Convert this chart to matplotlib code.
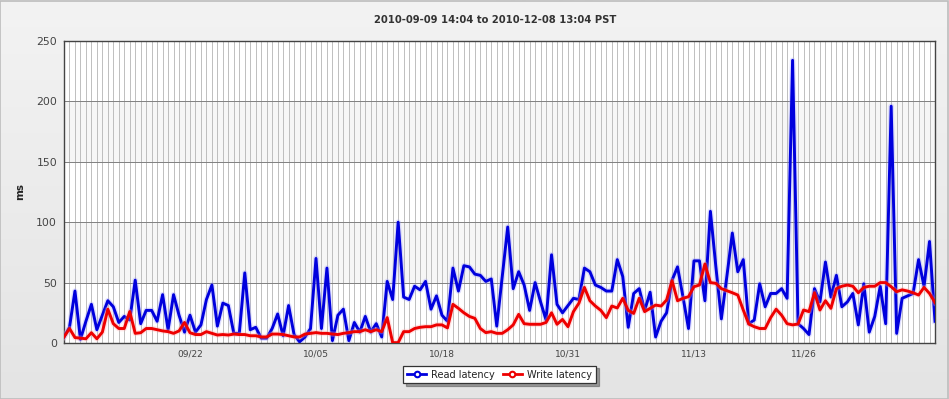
import matplotlib
matplotlib.use("Agg")
import matplotlib.pyplot as plt
import matplotlib.patheffects as pe
from matplotlib.lines import Line2D
from matplotlib.colors import LinearSegmentedColormap
import numpy as np

title = "2010-09-09 14:04 to 2010-12-08 13:04 PST"
y_label = "ms"
series_names = ["Read latency", "Write latency"]

read_latency = [
    5, 13, 43, 3, 18, 32, 11, 23, 35, 30, 17, 22, 19, 52, 16, 27, 27, 18, 40, 11,
    40, 23, 9, 23, 9, 15, 36, 48, 14, 33, 31, 8, 8, 58, 11, 13, 4, 4, 12, 24,
    6, 31, 7, 1, 5, 12, 70, 12, 62, 2, 23, 28, 2, 17, 9, 22, 9, 16, 5, 51,
    36, 100, 38, 36, 47, 44, 51, 28, 39, 23, 18, 62, 43, 64, 63, 57, 56, 51, 53, 14,
    55, 96, 45, 59, 48, 27, 50, 34, 19, 73, 32, 25, 31, 37, 36, 62, 59, 48, 46, 43,
    43, 69, 55, 13, 41, 45, 27, 42, 5, 18, 25, 52, 63, 38, 12, 68, 68, 35, 109, 63,
    20, 55, 91, 59, 69, 16, 19, 49, 30, 41, 41, 45, 37, 234, 16, 12, 7, 45, 34, 67,
    38, 56, 30, 34, 41, 15, 49, 9, 22, 47, 16, 196, 8, 37, 39, 41, 69, 47, 84, 18,
]

write_latency = [
    5, 12, 4.5, 4, 3.5, 8.5, 3.5, 9, 28, 16, 12, 12, 26, 8, 8.5, 12, 12, 11, 10, 9.4,
    8, 10, 17, 8.5, 7, 7, 9.4, 8, 6.6, 7, 6.6, 7.4, 7, 7, 6, 6, 5, 5, 7.4, 7.4,
    7, 6, 5, 5, 7.4, 8, 8.6, 8, 8, 7.4, 7, 8, 8.6, 9.4, 9.4, 11, 9.4, 11, 9.4, 21,
    0.3, 0.3, 9.4, 9.4, 12, 13, 13.5, 13.5, 15, 15, 12.5, 32, 28.7, 25, 22, 20.4, 12, 8.6, 9.4, 8,
    8, 11, 15, 23.7, 16, 15.5, 15.5, 15.5, 17, 25, 15.5, 19.5, 13.5, 26, 33, 46, 35, 30.6, 27, 21,
    30.6, 29, 37, 27, 24.5, 37, 26, 28.7, 31.4, 30.6, 35.6, 51.6, 35, 37, 38.3, 46.6, 48, 65.4, 50, 49.4,
    45, 43.3, 41.6, 39.7, 27.3, 15.7, 13.5, 12, 12, 21, 28, 23, 16, 15, 15.7, 27.3, 26, 41.6, 27.3, 35,
    28.7, 45, 47, 48, 47, 41.6, 46, 47, 47, 50, 50, 46.6, 42.5, 44, 43, 41.6, 39.7, 46, 41, 33.4,
]

tick_labels = ["09/22", "10/05", "10/18", "10/31", "11/13", "11/26"]
tick_index = [23, 46, 69, 92, 115, 135]
y_ticks = [0, 50, 100, 150, 200, 250]

plt.rcParams["font.family"] = ["DejaVu Sans"]

W, H = 949, 399
fig = plt.figure(figsize=(W / 100, H / 100), dpi=100)

# background gradient
bg = fig.add_axes([0, 0, 1, 1], zorder=-10)
grad = np.linspace(0, 1, 256).reshape(-1, 1)
cmap_bg = LinearSegmentedColormap.from_list("bg", ["#f3f3f3", "#e4e4e4"])
bg.imshow(grad, aspect="auto", cmap=cmap_bg, extent=[0, 1, 0, 1], origin="upper")
bg.set_xlim(0, 1)
bg.set_ylim(0, 1)
bg.axis("off")
bg.add_patch(plt.Rectangle((0.0005, 0.001), 0.998, 0.997, fill=False,
                           edgecolor="#bdbdbd", linewidth=1.2, transform=bg.transAxes))

left, right, top, bottom = 64, 935, 41, 343
ax = fig.add_axes([left / W, (H - bottom) / H, (right - left) / W, (bottom - top) / H])
ax.set_facecolor("white")

n = len(read_latency)
x = np.arange(n)

# alternating bands
for lo in (50, 150):
    ax.axhspan(lo, lo + 50, color="#f6f6f6", zorder=0, linewidth=0)

# grid
for xi in x:
    ax.axvline(xi, color="#b4b4b4", linewidth=0.6, zorder=1)
for yv in y_ticks[1:-1]:
    ax.axhline(yv, color="#808080", linewidth=0.7, zorder=1.5)

blue = "#0000dd"
red = "#ee0000"
ax.plot(x, read_latency, color=blue, linewidth=2.1, zorder=3, solid_joinstyle="round",
        path_effects=[pe.Stroke(linewidth=4.0, foreground=(0.6, 0.6, 1.0, 0.3)), pe.Normal()])
ax.plot(x, write_latency, color=red, linewidth=2.1, zorder=4, solid_joinstyle="round",
        path_effects=[pe.Stroke(linewidth=4.0, foreground=(1.0, 0.65, 0.65, 0.3)), pe.Normal()])

ax.set_xlim(0, n - 1)
ax.set_ylim(0, 250)
ax.set_yticks(y_ticks)
ax.set_yticklabels([str(v) for v in y_ticks], fontsize=7.8, color="#444444")
ax.set_xticks(tick_index)
ax.set_xticklabels(tick_labels, fontsize=6.5, color="#444444")
ax.tick_params(axis="both", length=0)
ax.tick_params(axis="y", pad=5)
ax.tick_params(axis="x", pad=5)
for s in ax.spines.values():
    s.set_color("#444444")
    s.set_linewidth(1.0)

ax.set_ylabel(y_label, fontsize=7.5, fontweight="bold", color="#222222", labelpad=8)

fig.text((left + right) / 2 / W - 0.005, 1 - 20 / H, title, ha="center", va="center",
         fontsize=7.2, fontweight="bold", color="#333333")

handles = [
    Line2D([0], [0], color=blue, linewidth=2, marker="o", markersize=4,
           markerfacecolor="white", markeredgecolor=blue, markeredgewidth=1.5),
    Line2D([0], [0], color=red, linewidth=2, marker="o", markersize=4,
           markerfacecolor="white", markeredgecolor=red, markeredgewidth=1.5),
]
leg = ax.legend(handles, series_names, loc="upper center", bbox_to_anchor=(0.5, -0.075),
                ncol=2, frameon=True, fancybox=False, shadow=True, fontsize=7,
                handlelength=2.0, handletextpad=0.5, columnspacing=0.8,
                borderpad=0.4, borderaxespad=0)
leg.get_frame().set_edgecolor("#333333")
leg.get_frame().set_linewidth(0.9)
for t in leg.get_texts():
    t.set_color("#222222")

fig.savefig("out.png", dpi=100)
